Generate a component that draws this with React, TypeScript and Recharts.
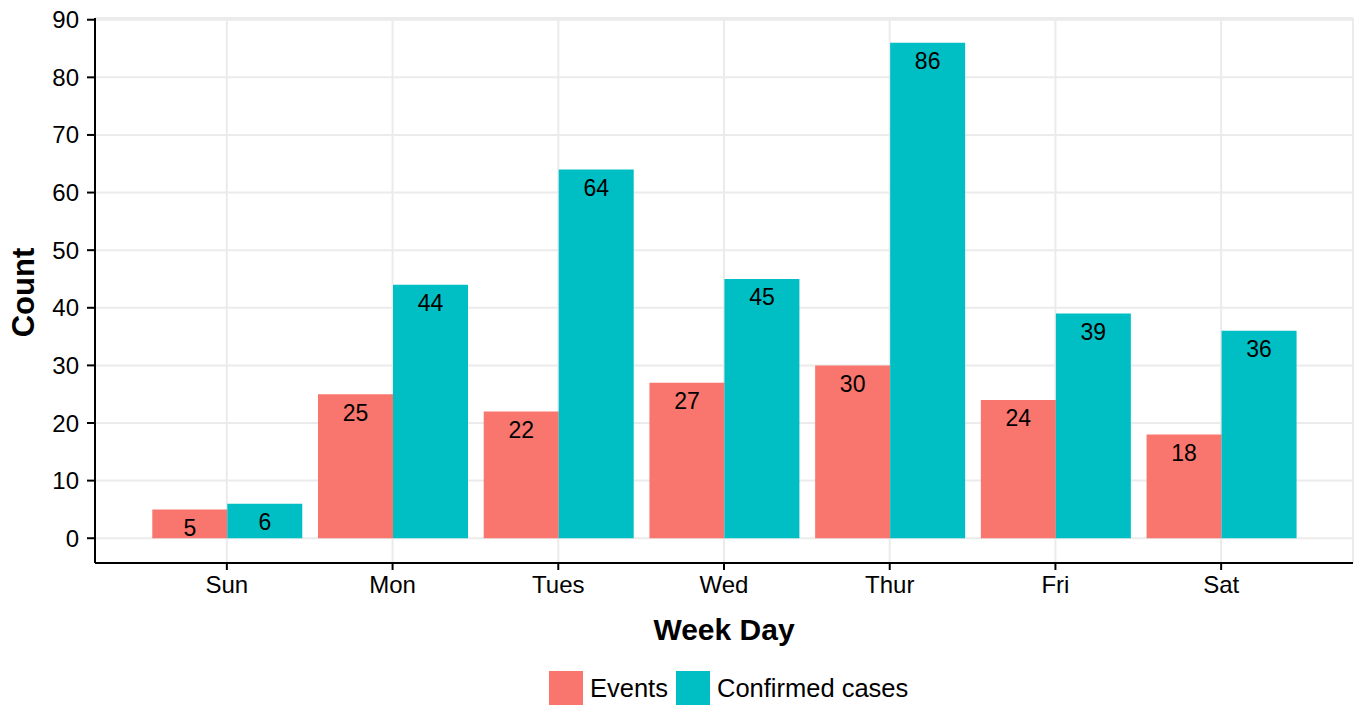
import React from "react";
import {
  BarChart,
  Bar,
  XAxis,
  YAxis,
  CartesianGrid,
  Legend,
  LabelList,
} from "recharts";

const days = ["Sun", "Mon", "Tues", "Wed", "Thur", "Fri", "Sat"];
const events = [5, 25, 22, 27, 30, 24, 18];
const confirmed = [6, 44, 64, 45, 86, 39, 36];
const yTicks = [0, 10, 20, 30, 40, 50, 60, 70, 80, 90];

const seriesNames = { events: "Events", confirmed: "Confirmed cases" };
const colors = { events: "#F8766D", confirmed: "#00BFC4" };

const data = days.map((day, i) => ({
  day,
  events: events[i],
  confirmed: confirmed[i],
}));

const FONT = '"Liberation Sans", Arial, Helvetica, sans-serif';

function CountLabel(props: any) {
  const { viewBox } = props;
  const x = viewBox.x + 34;
  const y = viewBox.y + viewBox.height / 2 + 2;
  return (
    <text
      x={x}
      y={y}
      transform={`rotate(-90, ${x}, ${y})`}
      textAnchor="middle"
      fontSize={31}
      fontWeight="bold"
      fill="#000"
    >
      Count
    </text>
  );
}

function LegendBox() {
  const items = [
    { key: "events", label: seriesNames.events, color: colors.events },
    { key: "confirmed", label: seriesNames.confirmed, color: colors.confirmed },
  ];
  return (
    <div
      style={{
        height: 44,
        display: "flex",
        alignItems: "center",
        paddingLeft: 549,
        paddingTop: 10,
        boxSizing: "border-box",
        fontFamily: FONT,
      }}
    >
      {items.map((it) => (
        <div
          key={it.key}
          style={{ display: "flex", alignItems: "center", marginRight: 8 }}
        >
          <span
            style={{
              width: 34,
              height: 34,
              background: it.color,
              display: "inline-block",
              marginRight: 7,
            }}
          />
          <span style={{ fontSize: 25.5, color: "#000" }}>{it.label}</span>
        </div>
      ))}
    </div>
  );
}

export default function App() {
  return (
    <div style={{ width: 1355, height: 705, background: "#fff" }}>
      <style>{`body{margin:0;}`}</style>
      <BarChart
        width={1355}
        height={705}
        data={data}
        margin={{ top: 18, right: 2, bottom: 0, left: 0 }}
        barCategoryGap="5%"
        barGap={0}
        style={{ fontFamily: FONT }}
      >
        <CartesianGrid stroke="#EBEBEB" strokeWidth={2} />
        <XAxis
          dataKey="day"
          height={98}
          padding={{ left: 49, right: 49 }}
          axisLine={{ stroke: "#000", strokeWidth: 2 }}
          tickLine={{ stroke: "#000", strokeWidth: 2 }}
          tickSize={7}
          tickMargin={6}
          tick={{ fill: "#000", fontSize: 24 }}
          label={{
            value: "Week Day",
            position: "insideBottom",
            offset: 21,
            fill: "#000",
            fontSize: 30,
            fontWeight: "bold",
          }}
        />
        <YAxis
          width={95}
          domain={[-4.3, 90.3]}
          ticks={yTicks}
          allowDataOverflow
          axisLine={{ stroke: "#000", strokeWidth: 2 }}
          tickLine={{ stroke: "#000", strokeWidth: 2 }}
          tickSize={8}
          tickMargin={8}
          tick={{ fill: "#000", fontSize: 24 }}
          label={<CountLabel />}
        />
        <Legend
          verticalAlign="bottom"
          content={() => <LegendBox />}
          wrapperStyle={{ left: 0, width: 1355, bottom: 0 }}
        />
        <Bar
          dataKey="events"
          name={seriesNames.events}
          fill={colors.events}
          isAnimationActive={false}
        >
          <LabelList
            dataKey="events"
            position="insideTop"
            offset={10}
            fill="#000"
            fontSize={23}
          />
        </Bar>
        <Bar
          dataKey="confirmed"
          name={seriesNames.confirmed}
          fill={colors.confirmed}
          isAnimationActive={false}
        >
          <LabelList
            dataKey="confirmed"
            position="insideTop"
            offset={10}
            fill="#000"
            fontSize={23}
          />
        </Bar>
      </BarChart>
    </div>
  );
}
